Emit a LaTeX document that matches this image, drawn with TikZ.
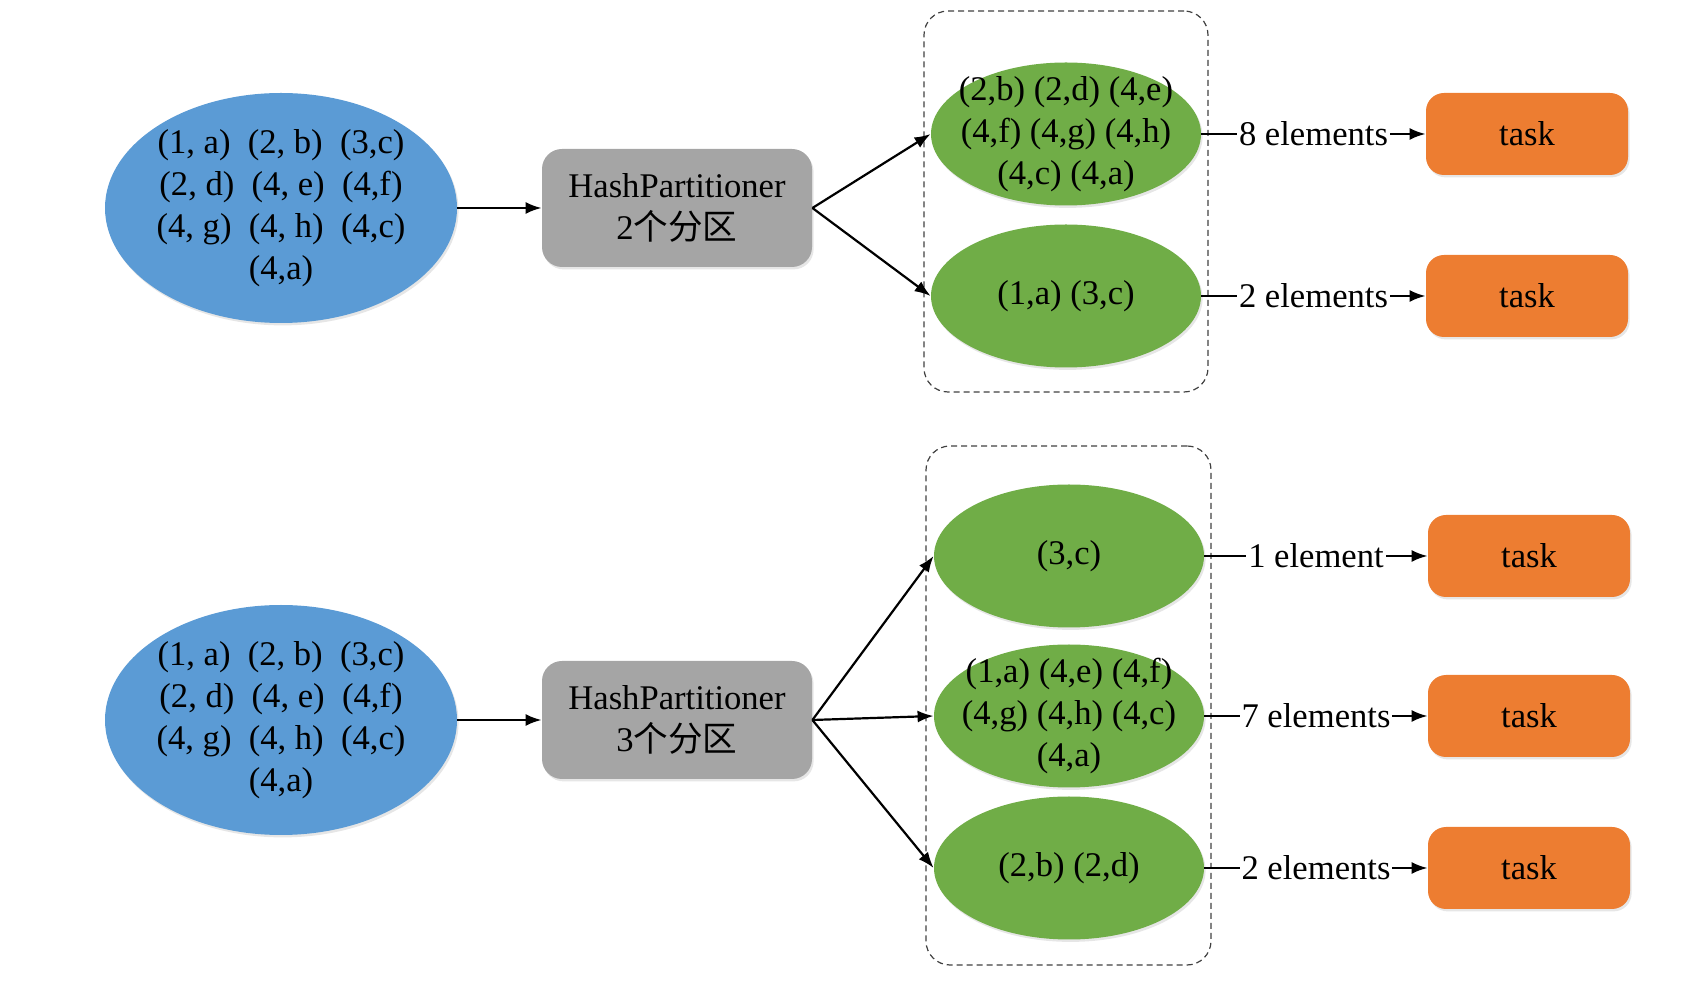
\documentclass[tikz,border=0pt]{standalone}
\usepackage{fontspec}
\setmainfont{Liberation Serif}
\newfontfamily\cjk{Noto Sans CJK SC}
\usetikzlibrary{arrows.meta, shapes.geometric, fit, shadows}

\definecolor{rddblue}{HTML}{5B9BD5}
\definecolor{hashgray}{HTML}{A5A5A5}
\definecolor{partgreen}{HTML}{70AD47}
\definecolor{taskorange}{HTML}{ED7D31}

\begin{document}
\begin{tikzpicture}[
    x=0.5pt, y=-0.5pt,
    every node/.style={font=\fontsize{17.3pt}{21pt}\selectfont, align=center, inner sep=0pt},
    soft/.style={drop shadow={shadow xshift=0.8pt, shadow yshift=-1.2pt, opacity=0.2, fill=black!50}},
    rddnode/.style={ellipse, soft, fill=rddblue, inner sep=-10pt, minimum width=176pt, minimum height=115pt},
    hashbox/.style={rectangle, soft, rounded corners=10pt, fill=hashgray, minimum width=135pt, minimum height=59pt},
    partnode/.style={ellipse, soft, fill=partgreen, inner sep=-10pt, minimum width=135pt, minimum height=71.5pt},
    taskbox/.style={rectangle, soft, rounded corners=9pt, fill=taskorange, minimum width=101pt, minimum height=41pt},
    groupbox/.style={draw=black!75, dash pattern=on 3pt off 2pt, line width=0.6pt, rounded corners=12pt, inner sep=0pt},
    countlabel/.style={fill=white, inner sep=1pt},
    arrow/.style={-{Latex[length=8pt,width=6pt]}, line width=1.1pt}
]
\useasboundingbox (0,0) rectangle (1694,983);

% Groups of partitions
\node[groupbox, fit={(924,11) (1208,392)}] (grp2) {};
\node[groupbox, fit={(926,446) (1211,965)}] (grp3) {};

% Nodes, 2 partitions
\node[rddnode] (src2) at (281,208) {(1, a)~~(2, b)~~(3,c)\\(2, d)~~(4, e)~~(4,f)\\(4, g)~~(4, h)~~(4,c)\\(4,a)};
\node[hashbox] (hp2) at (677,208) {HashPartitioner\\2{\cjk 个分区}};
\node[partnode] (p2a) at (1066,134) {(2,b) (2,d) (4,e)\\(4,f) (4,g) (4,h)\\(4,c) (4,a)};
\node[partnode] (p2b) at (1066,296) {(1,a) (3,c)};
\node[taskbox] (t2a) at (1527,134) {task};
\node[taskbox] (t2b) at (1527,296) {task};

% Nodes, 3 partitions
\node[rddnode] (src3) at (281,720) {(1, a)~~(2, b)~~(3,c)\\(2, d)~~(4, e)~~(4,f)\\(4, g)~~(4, h)~~(4,c)\\(4,a)};
\node[hashbox] (hp3) at (677,720) {HashPartitioner\\3{\cjk 个分区}};
\node[partnode] (p3a) at (1069,556) {(3,c)};
\node[partnode] (p3b) at (1069,716) {(1,a) (4,e) (4,f)\\(4,g) (4,h) (4,c)\\(4,a)};
\node[partnode] (p3c) at (1069,868) {(2,b) (2,d)};
\node[taskbox] (t3a) at (1529,556) {task};
\node[taskbox] (t3b) at (1529,716) {task};
\node[taskbox] (t3c) at (1529,868) {task};

% Arrows, 2 partitions
\draw[arrow] (src2) -- (hp2);
\draw[arrow] (hp2.east) -- (p2a.west);
\draw[arrow] (hp2.east) -- (p2b.west);
\draw[arrow] (p2a) -- node[countlabel] {8 elements} (t2a);
\draw[arrow] (p2b) -- node[countlabel] {2 elements} (t2b);

% Arrows, 3 partitions
\draw[arrow] (src3) -- (hp3);
\draw[arrow] (hp3.east) -- (p3a.west);
\draw[arrow] (hp3.east) -- (p3b.west);
\draw[arrow] (hp3.east) -- (p3c.west);
\draw[arrow] (p3a) -- node[countlabel] {1 element} (t3a);
\draw[arrow] (p3b) -- node[countlabel] {7 elements} (t3b);
\draw[arrow] (p3c) -- node[countlabel] {2 elements} (t3c);

\end{tikzpicture}
\end{document}
